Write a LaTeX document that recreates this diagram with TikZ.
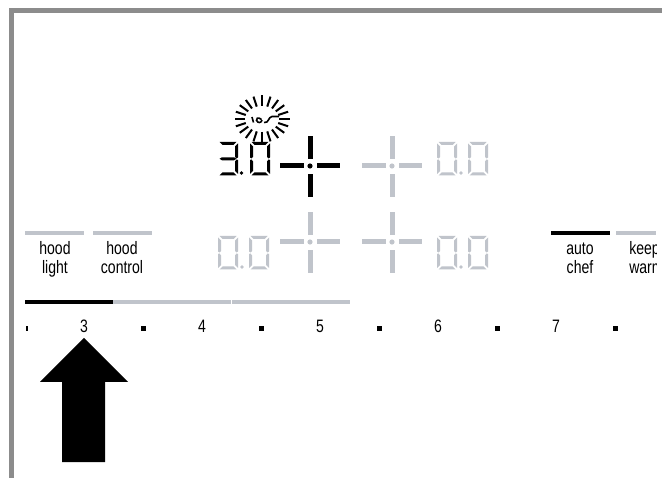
\documentclass[tikz,border=0pt]{standalone}
\usepackage{fontspec}
\setmainfont[FakeStretch=0.78]{Liberation Sans}
\definecolor{lite}{HTML}{C0C4CB}
\definecolor{frame}{HTML}{8C8C8C}
\newcommand{\segA}[3]{\fill[#3] (#1+1.5,#2) -- (#1+18.5,#2) -- (#1+15.5,#2+3) -- (#1+4.5,#2+3) -- cycle;}
\newcommand{\segB}[3]{\fill[#3] (#1+20,#2+1.5) -- (#1+20,#2+15.5) -- (#1+18.5,#2+16.5) -- (#1+17,#2+15) -- (#1+17,#2+4.5) -- cycle;}
\newcommand{\segC}[3]{\fill[#3] (#1+20,#2+18) -- (#1+20,#2+32) -- (#1+17,#2+29) -- (#1+17,#2+19.5) -- (#1+18.5,#2+17.5) -- cycle;}
\newcommand{\segD}[3]{\fill[#3] (#1+1.5,#2+33.5) -- (#1+18.5,#2+33.5) -- (#1+15.5,#2+30.5) -- (#1+4.5,#2+30.5) -- cycle;}
\newcommand{\segE}[3]{\fill[#3] (#1,#2+18) -- (#1,#2+32) -- (#1+3,#2+29) -- (#1+3,#2+19.5) -- (#1+1.5,#2+17.5) -- cycle;}
\newcommand{\segF}[3]{\fill[#3] (#1,#2+1.5) -- (#1,#2+15.5) -- (#1+1.5,#2+16.5) -- (#1+3,#2+15) -- (#1+3,#2+4.5) -- cycle;}
\newcommand{\segG}[3]{\fill[#3] (#1+1.5,#2+16.8) -- (#1+4,#2+15.3) -- (#1+16,#2+15.3) -- (#1+18.5,#2+16.8) -- (#1+16,#2+18.3) -- (#1+4,#2+18.3) -- cycle;}
\newcommand{\digitzero}[3]{\segA{#1}{#2}{#3}\segB{#1}{#2}{#3}\segC{#1}{#2}{#3}\segD{#1}{#2}{#3}\segE{#1}{#2}{#3}\segF{#1}{#2}{#3}}
\newcommand{\digitthree}[3]{\segA{#1}{#2}{#3}\segB{#1}{#2}{#3}\segC{#1}{#2}{#3}\segD{#1}{#2}{#3}\segG{#1}{#2}{#3}}
\newcommand{\zerozero}[3]{\digitzero{#1}{#2}{#3}\fill[#3] (#1+24,#2+31) circle (1.8);\digitzero{#1+31}{#2}{#3}}
\newcommand{\crossmark}[3]{%
 \fill[#3] (#1-30,#2-2.5) rectangle (#1-6,#2+2.5);
 \fill[#3] (#1+7,#2-2.5) rectangle (#1+30,#2+2.5);
 \fill[#3] (#1-2.5,#2-30) rectangle (#1+2.5,#2-7);
 \fill[#3] (#1-2.5,#2+8) rectangle (#1+2.5,#2+31);
 \fill[#3] (#1,#2) circle (2.6);}
\tikzset{
 lbl/.style={anchor=base,inner sep=0pt,font=\fontsize{13.5pt}{15pt}\selectfont},
 barlite/.style={fill=lite},
 barblack/.style={fill=black}
}
\begin{document}
\begin{tikzpicture}[x=0.75pt,y=-0.75pt]
\useasboundingbox (0,0) rectangle (662,478);
\fill[white] (0,0) rectangle (662,478);
% frame
\fill[frame] (9,8) rectangle (662,13);
\fill[frame] (9,8) rectangle (14,478);
% sun
\foreach \a in {0,18,...,342}{
  \draw[line width=1.5pt] ({262+17*cos(\a)},{119+13*sin(\a)}) -- ({262+27.5*cos(\a)},{119+23.5*sin(\a)});
}
\draw[line width=1.2pt] (252,117) -- (253.5,122.5);
\draw[line width=1.2pt] (261.5,119.5) .. controls (258,116.5) and (255.5,118.5) .. (256.5,120.5) .. controls (258,123.5) and (261.5,123) .. (262,120);
\draw[line width=1.2pt] (264,122.5) .. controls (269,123.5) and (268,117) .. (272,116.5) -- (279,116.5);
% displays
\digitthree{218}{142}{black}
\fill[black] (241.5,173) circle (1.8);
\digitzero{250}{142}{black}
\crossmark{310}{166}{black}
\crossmark{392}{166}{lite}
\zerozero{437}{142}{lite}
\zerozero{218}{236}{lite}
\crossmark{310}{242}{lite}
\crossmark{392}{242}{lite}
\zerozero{437}{236}{lite}
% bars
\fill[barlite] (25,231) rectangle (84,235);
\fill[barlite] (93,231) rectangle (152,235);
\fill[barblack] (551,231) rectangle (610,235);
\fill[barlite] (616,231) rectangle (656,235);
\fill[barlite] (113,300) rectangle (231,304);
\fill[barlite] (232,300) rectangle (350,304);
\fill[barblack] (25,300) rectangle (113,304);
% labels
\node[lbl] (hl1) at (55,255) {hood};
\node[lbl] (hl2) at (55,274) {light};
\node[lbl] (hc1) at (122,255) {hood};
\node[lbl] (hc2) at (122,274) {control};
\node[lbl] (ac1) at (580,255) {auto};
\node[lbl] (ac2) at (580,274) {chef};
\begin{scope}
\clip (600,240) rectangle (656,340);
\node[lbl,anchor=base west] (kw1) at (629,255) {keep};
\node[lbl,anchor=base west] (kw2) at (629,274) {warm};
\end{scope}
\node[lbl] (n3) at (84,333) {3};
\node[lbl] (n4) at (202,333) {4};
\node[lbl] (n5) at (320,333) {5};
\node[lbl] (n6) at (438,333) {6};
\node[lbl] (n7) at (556,333) {7};
% ticks
\fill (25.5,326) rectangle (27.5,331);
\foreach \x in {143,261,379,497,615}{\fill (\x-2.5,326) rectangle (\x+2.5,331);}
% arrow
\fill[black] (84,338) -- (128,382) -- (105,382) -- (105,462) -- (62,462) -- (62,382) -- (40,382) -- cycle;
\end{tikzpicture}
\end{document}
